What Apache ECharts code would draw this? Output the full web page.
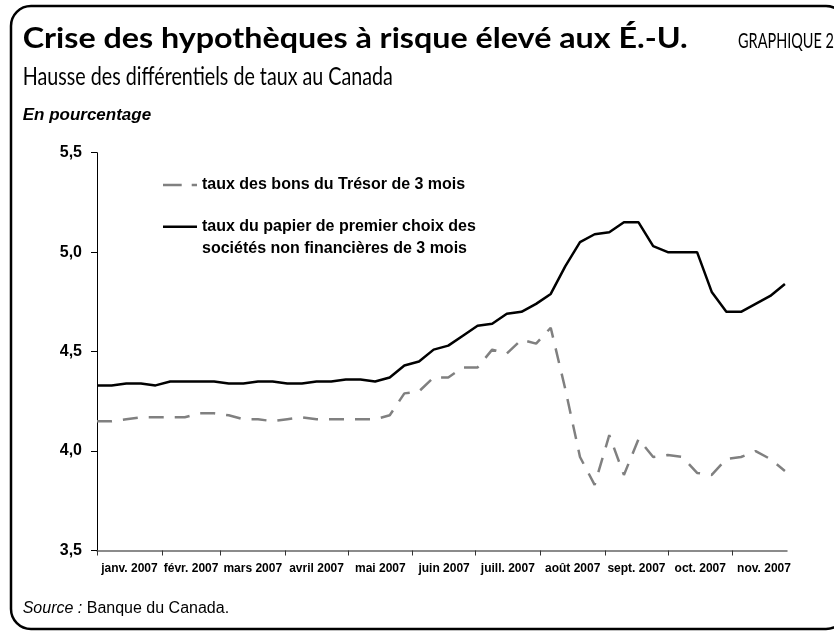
<!DOCTYPE html>
<html><head><meta charset="utf-8">
<script src="https://cdn.jsdelivr.net/npm/echarts@6/dist/echarts.min.js"></script>
<style>html,body{margin:0;padding:0;background:#fff}#c{width:834px;height:633px}</style>
</head><body><div id="c"></div>
<script>
// ---- data ----
const weekDates = ['2007-01-01','2007-01-08','2007-01-15','2007-01-22','2007-01-29',
  '2007-02-05','2007-02-12','2007-02-19','2007-02-26',
  '2007-03-05','2007-03-12','2007-03-19','2007-03-26',
  '2007-04-02','2007-04-09','2007-04-16','2007-04-23','2007-04-30',
  '2007-05-07','2007-05-14','2007-05-21','2007-05-28',
  '2007-06-04','2007-06-11','2007-06-18','2007-06-25',
  '2007-07-02','2007-07-09','2007-07-16','2007-07-23','2007-07-30',
  '2007-08-06','2007-08-13','2007-08-20','2007-08-27',
  '2007-09-03','2007-09-10','2007-09-17','2007-09-24',
  '2007-10-01','2007-10-08','2007-10-15','2007-10-22','2007-10-29',
  '2007-11-05','2007-11-12','2007-11-19','2007-11-26'];
const tbillRate = [4.15,4.15,4.16,4.17,4.17,4.17,4.17,4.19,4.19,4.18,4.16,4.16,4.15,4.16,4.17,4.16,
  4.16,4.16,4.16,4.16,4.18,4.29,4.30,4.37,4.37,4.42,4.42,4.51,4.49,4.56,4.54,4.62,
  4.31,3.97,3.83,4.08,3.88,4.06,3.97,3.98,3.97,3.89,3.88,3.96,3.97,4.00,3.96,3.90];
const paperRate = [4.33,4.33,4.34,4.34,4.33,4.35,4.35,4.35,4.35,4.34,4.34,4.35,4.35,4.34,4.34,4.35,
  4.35,4.36,4.36,4.35,4.37,4.43,4.45,4.51,4.53,4.58,4.63,4.64,4.69,4.70,4.74,4.79,
  4.93,5.05,5.09,5.10,5.15,5.15,5.03,5.00,5.00,5.00,4.80,4.70,4.70,4.74,4.78,4.84];
const monthLabels = ['janv. 2007','févr. 2007','mars 2007','avril 2007','mai 2007','juin 2007',
  'juill. 2007','août 2007','sept. 2007','oct. 2007','nov. 2007'];
const monthStarts = ['2007-01-01','2007-02-01','2007-03-01','2007-04-01','2007-05-01','2007-06-01',
  '2007-07-01','2007-08-01','2007-09-01','2007-10-01','2007-11-01','2007-12-01'];
const axisEndDate = '2007-11-27';
const yMin = 3.5, yMax = 5.5, yStep = 0.5;
const seriesNames = ['taux des bons du Trésor de 3 mois',
  'taux du papier de premier choix des sociétés non financières de 3 mois'];
const titleText = 'Crise des hypothèques à risque élevé aux É.-U.';
const subtitleText = 'Hausse des différentiels de taux au Canada';
const chartNoText = 'GRAPHIQUE 2';
const unitText = 'En pourcentage';
const sourceLabel = 'Source :';
const sourceText = ' Banque du Canada.';

// ---- helpers ----
function dayOf(s){const p=s.split('-').map(Number);return (Date.UTC(p[0],p[1]-1,p[2])-Date.UTC(2007,0,1))/86400000;}
const startDays = monthStarts.map(dayOf);
const midDays = monthLabels.map((_,i)=>(startDays[i]+startDays[i+1])/2);
const ctx = document.createElement('canvas').getContext('2d');
function tw(t,f){ctx.font=f;return ctx.measureText(t).width;}

const titleFont = '700 28px Lato';
const subFont = '400 25px Lato';
const noFont = '400 21px Lato';
const titleSX = 665 / tw(titleText, titleFont);
const subSX = 177 / tw('Hausse des différent', subFont);
const noSX = 96 / tw(chartNoText, noFont);

const F = 'Liberation Sans, Arial, sans-serif';
const chart = echarts.init(document.getElementById('c'), null, {renderer:'canvas'});

const dashIcon = 'path://M0,0h0.01v0.01h-0.01z M0,20.45h18.7v2.5h-18.7z M28.7,20.45h5.3v2.5h-5.3z M33.99,43.39h0.01v0.01h-0.01z';
const solidIcon = 'path://M0,0h0.01v0.01h-0.01z M0,9.6h34v2.5h-34z M33.99,43.39h0.01v0.01h-0.01z';

chart.setOption({
  animation:false,
  backgroundColor:'#fff',
  grid:{left:97,right:47,top:152.7,bottom:82.5,containLabel:false},
  xAxis:{type:'value',min:0,max:dayOf(axisEndDate),
    axisLine:{show:true,onZero:false,lineStyle:{color:'#666',width:1.5}},
    axisTick:{show:true,customValues:startDays,length:5,lineStyle:{color:'#333',width:1}},
    axisLabel:{customValues:midDays,margin:12,color:'#000',fontFamily:F,fontWeight:'bold',fontSize:12,
      formatter:function(v){const i=midDays.indexOf(v);return i>=0?monthLabels[i]:'';}},
    splitLine:{show:false}},
  yAxis:{type:'value',min:yMin,max:yMax,interval:yStep,
    axisLine:{show:true,lineStyle:{color:'#000',width:1}},
    axisTick:{show:true,length:6,lineStyle:{color:'#000',width:1}},
    axisLabel:{margin:15,color:'#000',fontFamily:F,fontWeight:'bold',fontSize:16,
      formatter:function(v){return v.toFixed(1).replace('.',',');}},
    splitLine:{show:false}},
  legend:{show:true,orient:'vertical',left:163,top:163.3,padding:0,itemGap:9.2,
    itemWidth:34,itemHeight:43.4,selectedMode:false,
    data:[{name:seriesNames[0],icon:dashIcon},{name:seriesNames[1],icon:solidIcon}],
    formatter:function(n){return n.replace('choix des ','choix des\n');},
    textStyle:{fontFamily:F,fontWeight:'bold',fontSize:16,lineHeight:21.7,color:'#000'}},
  series:[
    {name:seriesNames[0],type:'line',symbol:'none',showSymbol:false,
      color:'#808080',
      lineStyle:{color:'#808080',width:2.5,type:[15,11]},
      data:weekDates.map((d,i)=>[dayOf(d),tbillRate[i]])},
    {name:seriesNames[1],type:'line',symbol:'none',showSymbol:false,
      color:'#000',
      lineStyle:{color:'#000',width:2.5,type:'solid'},
      data:weekDates.map((d,i)=>[dayOf(d),paperRate[i]])}
  ],
  graphic:[
    {type:'rect',silent:true,shape:{x:11,y:6,width:835,height:623,r:20},
      style:{fill:'none',stroke:'#000',lineWidth:2.5}},
    {type:'text',x:22.7,y:38.5,scaleX:titleSX,style:{text:titleText,font:titleFont,fill:'#000',verticalAlign:'middle'}},
    {type:'text',x:22.7,y:76.5,scaleX:subSX,style:{text:subtitleText,font:subFont,fill:'#000',verticalAlign:'middle'}},
    {type:'text',x:738,y:41,scaleX:noSX,style:{text:chartNoText,font:noFont,fill:'#000',verticalAlign:'middle'}},
    {type:'text',x:22.7,y:115,style:{text:unitText,font:'italic bold 17px '+F,fill:'#000',verticalAlign:'middle'}},
    {type:'text',x:22.7,y:609,style:{text:'{i|'+sourceLabel+'}{r|'+sourceText+'}',verticalAlign:'middle',
      rich:{i:{fontFamily:F,fontStyle:'italic',fontSize:16,fill:'#000'},r:{fontFamily:F,fontSize:16,fill:'#000'}}}}
  ]
});
</script>
</body></html>
